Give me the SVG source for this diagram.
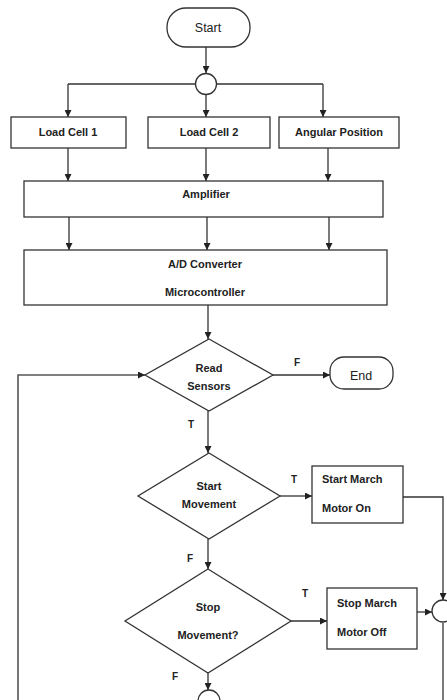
<svg xmlns="http://www.w3.org/2000/svg" width="447" height="700" viewBox="0 0 447 700">
<defs>
<marker id="arr" viewBox="0 0 10 10" refX="10" refY="5" markerWidth="7" markerHeight="7" markerUnits="userSpaceOnUse" orient="auto">
<path d="M0,0 L10,5 L0,10 Z" fill="#222"/>
</marker>
<style>
.shape{fill:#fff;stroke:#333;stroke-width:1.3}
.ln{fill:none;stroke:#333;stroke-width:1.3}
.lp{fill:none;stroke:#555;stroke-width:1.6}
.t{font-family:"Liberation Sans",Arial,sans-serif;font-size:11px;font-weight:bold;fill:#222;text-anchor:middle}
.tl{font-family:"Liberation Sans",Arial,sans-serif;font-size:11px;font-weight:bold;fill:#222;text-anchor:start}
.tr{font-family:"Liberation Sans",Arial,sans-serif;font-size:12.5px;fill:#222;text-anchor:middle}
.lab{font-family:"Liberation Sans",Arial,sans-serif;font-size:10px;font-weight:bold;fill:#222;text-anchor:middle}
</style>
</defs>
<rect width="447" height="700" fill="#fff"/>
<g id="connectors">
<line class="ln" x1="206" y1="47" x2="206" y2="73" marker-end="url(#arr)"/>
<line class="ln" x1="68" y1="84" x2="195" y2="84"/>
<line class="ln" x1="217" y1="84" x2="323" y2="84"/>
<line class="ln" x1="68" y1="84" x2="68" y2="117" marker-end="url(#arr)"/>
<line class="ln" x1="206" y1="95" x2="206" y2="117" marker-end="url(#arr)"/>
<line class="ln" x1="323" y1="84" x2="323" y2="117" marker-end="url(#arr)"/>
<line class="ln" x1="68" y1="148" x2="68" y2="181" marker-end="url(#arr)"/>
<line class="ln" x1="206" y1="148" x2="206" y2="181" marker-end="url(#arr)"/>
<line class="ln" x1="328" y1="148" x2="328" y2="181" marker-end="url(#arr)"/>
<line class="ln" x1="69" y1="217" x2="69" y2="250" marker-end="url(#arr)"/>
<line class="ln" x1="207" y1="217" x2="207" y2="250" marker-end="url(#arr)"/>
<line class="ln" x1="329" y1="217" x2="329" y2="250" marker-end="url(#arr)"/>
<line class="ln" x1="208" y1="305" x2="208" y2="339" marker-end="url(#arr)"/>
<line class="ln" x1="273" y1="375" x2="330" y2="375" marker-end="url(#arr)"/>
<line class="ln" x1="208" y1="411" x2="208" y2="453" marker-end="url(#arr)"/>
<line class="ln" x1="280" y1="496" x2="312" y2="496" marker-end="url(#arr)"/>
<polyline class="ln" points="403,497 443,497 443,600" marker-end="url(#arr)"/>
<line class="ln" x1="208" y1="539" x2="208" y2="569" marker-end="url(#arr)"/>
<line class="ln" x1="291" y1="621" x2="327" y2="621" marker-end="url(#arr)"/>
<line class="ln" x1="417" y1="612" x2="432" y2="612" marker-end="url(#arr)"/>
<line class="ln" x1="443" y1="623" x2="443" y2="700"/>
<line class="ln" x1="208" y1="673" x2="208" y2="690" marker-end="url(#arr)"/>
<polyline class="lp" points="18,700 18,375 145,375" marker-end="url(#arr)"/>
<text class="lab" x="297" y="366">F</text>
<text class="lab" x="191" y="428">T</text>
<text class="lab" x="294" y="483">T</text>
<text class="lab" x="190" y="562">F</text>
<text class="lab" x="305" y="597">T</text>
<text class="lab" x="175" y="680">F</text>
</g>
<g id="start">
<rect class="shape" x="167" y="8" width="83" height="39" rx="19"/>
<text class="tr" x="208" y="32">Start</text>
</g>
<g id="junction1">
<circle class="shape" cx="206" cy="84" r="10.5"/>
</g>
<g id="loadcell1">
<rect class="shape" x="11" y="117" width="115" height="31"/>
<text class="t" x="68" y="136">Load Cell 1</text>
</g>
<g id="loadcell2">
<rect class="shape" x="148" y="117" width="122" height="31"/>
<text class="t" x="209" y="136">Load Cell 2</text>
</g>
<g id="angular">
<rect class="shape" x="279" y="117" width="120" height="31"/>
<text class="t" x="339" y="136">Angular Position</text>
</g>
<g id="amplifier">
<rect class="shape" x="24" y="181" width="359" height="36"/>
<text class="t" x="206" y="198">Amplifier</text>
</g>
<g id="adconverter">
<rect class="shape" x="24" y="250" width="363" height="55"/>
<text class="t" x="205" y="268">A/D Converter</text>
<text class="t" x="205" y="296">Microcontroller</text>
</g>
<g id="readsensors">
<polygon class="shape" points="209,339 273,375 209,411 145,375"/>
<text class="t" x="209" y="372">Read</text>
<text class="t" x="209" y="390">Sensors</text>
</g>
<g id="end">
<rect class="shape" x="330" y="357" width="63" height="32" rx="14"/>
<text class="tr" x="361" y="380">End</text>
</g>
<g id="startmovement">
<polygon class="shape" points="209,453 280,496 209,539 138,496"/>
<text class="t" x="209" y="490">Start</text>
<text class="t" x="209" y="508">Movement</text>
</g>
<g id="startmarch">
<rect class="shape" x="312" y="466" width="91" height="57"/>
<text class="tl" x="322" y="483">Start March</text>
<text class="tl" x="322" y="512">Motor On</text>
</g>
<g id="stopmovement">
<polygon class="shape" points="208,569 291,621 208,673 125,621"/>
<text class="t" x="208" y="611">Stop</text>
<text class="t" x="208" y="639">Movement?</text>
</g>
<g id="stopmarch">
<rect class="shape" x="327" y="588" width="90" height="61"/>
<text class="tl" x="337" y="607">Stop March</text>
<text class="tl" x="337" y="636">Motor Off</text>
</g>
<g id="junction2">
<circle class="shape" cx="443" cy="611" r="11"/>
</g>
<g id="junction3">
<circle class="shape" cx="209" cy="701" r="11"/>
</g>
</svg>
